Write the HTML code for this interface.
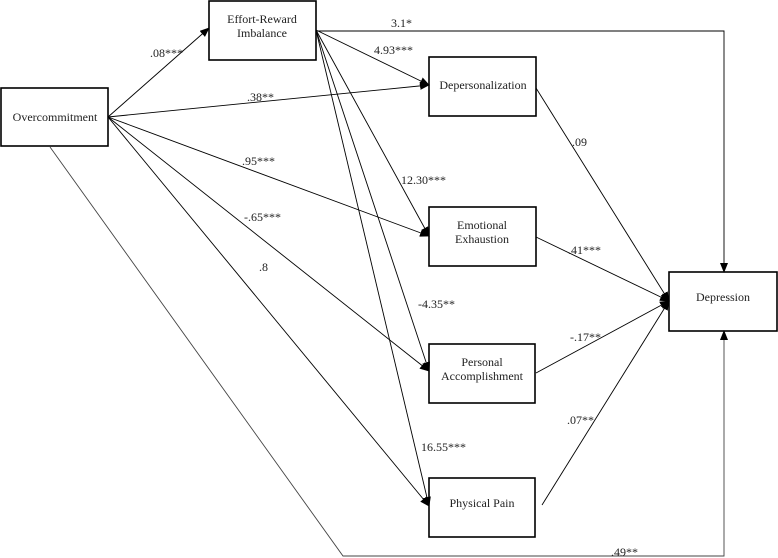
<!DOCTYPE html>
<html><head><meta charset="utf-8"><style>
html,body{margin:0;padding:0;background:#fff;}
svg{display:block;}
text{font-family:"Liberation Serif","Times New Roman","DejaVu Serif",serif;font-size:12px;fill:#222;}
</style></head><body>
<svg width="778" height="558" viewBox="0 0 778 558" xmlns="http://www.w3.org/2000/svg">
<defs>
<marker id="a" markerWidth="10" markerHeight="8" refX="9" refY="4" orient="auto" markerUnits="userSpaceOnUse">
<path d="M0,0 L10,4 L0,8 Z" fill="#000"/>
</marker>
</defs>
<g stroke="#000" stroke-width="1.6" fill="#fff">
<rect x="1" y="88" width="107" height="58"/>
<rect x="209" y="1" width="107" height="59"/>
<rect x="429" y="57" width="107" height="59"/>
<rect x="429" y="207" width="107" height="59"/>
<rect x="429" y="344" width="106" height="59"/>
<rect x="429" y="478" width="106" height="59"/>
<rect x="669" y="272" width="108" height="59"/>
</g>
<g stroke="#000" stroke-width="0.9" fill="none">
<line x1="108" y1="117" x2="209" y2="28" marker-end="url(#a)"/>
<line x1="108" y1="117" x2="429" y2="85" marker-end="url(#a)"/>
<line x1="108" y1="117" x2="429" y2="236" marker-end="url(#a)"/>
<line x1="108" y1="117" x2="429" y2="371" marker-end="url(#a)"/>
<line x1="108" y1="117" x2="429" y2="506" marker-end="url(#a)"/>
<line x1="316" y1="30" x2="429" y2="85" marker-end="url(#a)"/>
<line x1="316" y1="30" x2="429" y2="236" marker-end="url(#a)"/>
<line x1="316" y1="30" x2="429" y2="371" marker-end="url(#a)"/>
<line x1="316" y1="30" x2="429" y2="506" marker-end="url(#a)"/>
<polyline points="316,31 724,31 724,272" marker-end="url(#a)"/>
<polyline points="50,147 343,556 724,556 724,331" marker-end="url(#a)" stroke="#444"/>
<line x1="536" y1="88" x2="669" y2="301" marker-end="url(#a)"/>
<line x1="536" y1="237" x2="669" y2="301" marker-end="url(#a)"/>
<line x1="536" y1="373" x2="669" y2="301" marker-end="url(#a)"/>
<line x1="542" y1="505" x2="669" y2="301" marker-end="url(#a)"/>
</g>
<g text-anchor="middle">
<text x="55" y="121">Overcommitment</text>
<text x="262" y="23">Effort-Reward</text>
<text x="262" y="37">Imbalance</text>
<text x="483" y="89">Depersonalization</text>
<text x="482" y="229">Emotional</text>
<text x="482" y="243">Exhaustion</text>
<text x="482" y="366">Personal</text>
<text x="482" y="380">Accomplishment</text>
<text x="482" y="507">Physical Pain</text>
<text x="723" y="301">Depression</text>
</g>
<g>
<text x="150" y="57">.08***</text>
<text x="391" y="27">3.1*</text>
<text x="374" y="54">4.93***</text>
<text x="247" y="101">.38**</text>
<text x="242" y="165">.95***</text>
<text x="244" y="221">-.65***</text>
<text x="401" y="184">12.30***</text>
<text x="572" y="146">.09</text>
<text x="259" y="271">.8</text>
<text x="418" y="308">-4.35**</text>
<text x="568" y="254">.41***</text>
<text x="570" y="341">-.17**</text>
<text x="567" y="424">.07**</text>
<text x="421" y="451">16.55***</text>
<text x="611" y="556">.49**</text>
</g>
</svg>
</body></html>
